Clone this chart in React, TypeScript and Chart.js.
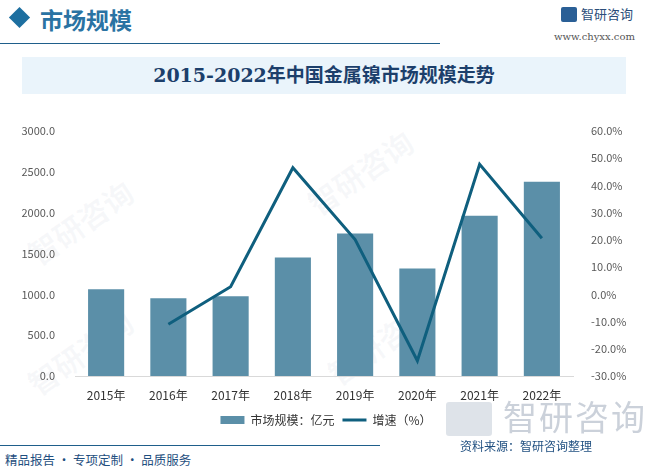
import React, { useEffect, useRef } from "react";
import { Chart, registerables } from "chart.js";

Chart.register(...registerables);

const categories = ["2015年", "2016年", "2017年", "2018年", "2019年", "2020年", "2021年", "2022年"];
const marketSize = [1061, 951, 976, 1451, 1744, 1317, 1963, 2378];
const growthRate = [null, -11.0, 2.8, 46.5, 20.1, -24.4, 47.8, 20.6];
const seriesNames = ["市场规模：亿元", "增速（%）"];

const BAR_COLOR = "#5b8fa8";
const LINE_COLOR = "#0f5f7e";
const FONT = "'Noto Sans CJK SC', 'Noto Sans', sans-serif";

export default function App() {
  const canvasRef = useRef<HTMLCanvasElement | null>(null);

  useEffect(() => {
    if (!canvasRef.current) return;
    Chart.defaults.font.family = FONT;
    const chart = new Chart(canvasRef.current, {
      type: "bar",
      data: {
        labels: categories,
        datasets: [
          {
            type: "bar",
            label: seriesNames[0],
            data: marketSize,
            backgroundColor: BAR_COLOR,
            borderWidth: 0,
            yAxisID: "y",
            order: 1,
            barPercentage: 0.58,
            categoryPercentage: 1,
          },
          {
            type: "line",
            label: seriesNames[1],
            data: growthRate as any,
            borderColor: LINE_COLOR,
            backgroundColor: LINE_COLOR,
            borderWidth: 3,
            pointRadius: 0,
            tension: 0,
            yAxisID: "y1",
            order: 0,
          },
        ],
      },
      options: {
        animation: false,
        responsive: false,
        maintainAspectRatio: false,
        layout: { padding: { top: 31, left: 0, right: 0, bottom: 4 } },
        plugins: {
          tooltip: { enabled: false },
          legend: {
            position: "bottom",
            labels: {
              usePointStyle: true,
              pointStyleWidth: 24,
              boxHeight: 8,
              padding: 8,
              color: "#333333",
              font: { size: 12, family: FONT },
              sort: (a: any, b: any) => a.datasetIndex - b.datasetIndex,
              generateLabels: (c: any) => {
                const items = Chart.defaults.plugins.legend.labels.generateLabels(c);
                return items.map((it: any) => ({
                  ...it,
                  pointStyle: it.datasetIndex === 1 ? "line" : "rect",
                  lineWidth: it.datasetIndex === 1 ? 3 : 0,
                  strokeStyle: it.datasetIndex === 1 ? LINE_COLOR : BAR_COLOR,
                  fillStyle: it.datasetIndex === 1 ? LINE_COLOR : BAR_COLOR,
                }));
              },
            },
          },
        },
        scales: {
          x: {
            grid: { display: false },
            border: { display: true, color: "#d9d9d9", width: 1 },
            ticks: { color: "#333333", font: { size: 12 }, padding: 4 },
            afterFit: (s: any) => {
              s.height = 30;
            },
          },
          y: {
            position: "left",
            min: 0,
            max: 3000,
            grid: { display: false },
            border: { display: false },
            ticks: {
              stepSize: 500,
              color: "#595959",
              font: { size: 11 },
              padding: 12,
              callback: (v: any) => Number(v).toFixed(1),
            },
            afterFit: (s: any) => {
              s.width = 75;
            },
          },
          y1: {
            position: "right",
            min: -30,
            max: 60,
            grid: { display: false },
            border: { display: false },
            ticks: {
              stepSize: 10,
              color: "#595959",
              font: { size: 11 },
              padding: 10,
              callback: (v: any) => Number(v).toFixed(1) + "%",
            },
            afterFit: (s: any) => {
              s.width = 79;
            },
          },
        },
      },
    });
    return () => chart.destroy();
  }, []);

  const wm = (left: number, top: number, size: number) => (
    <div
      style={{
        position: "absolute",
        left,
        top,
        fontSize: size,
        color: "rgba(160,180,200,0.09)",
        transform: "rotate(-35deg)",
        fontFamily: FONT,
        fontWeight: 700,
        whiteSpace: "nowrap",
        pointerEvents: "none",
      }}
    >
      智研咨询
    </div>
  );

  return (
    <div
      style={{
        position: "absolute",
        left: 0,
        top: 0,
        width: 652,
        height: 470,
        background: "#ffffff",
        overflow: "hidden",
        fontFamily: FONT,
      }}
    >
      {/* header */}
      <div
        style={{
          position: "absolute",
          left: 12,
          top: 10,
          width: 15,
          height: 15,
          background: "#1d6fa0",
          transform: "rotate(45deg)",
        }}
      />
      <div
        style={{
          position: "absolute",
          left: 40,
          top: 3,
          fontSize: 23,
          fontWeight: 700,
          color: "#2a73a3",
          fontFamily: FONT,
          lineHeight: "32px",
        }}
      >
        市场规模
      </div>
      <div style={{ position: "absolute", left: 0, top: 43, width: 440, height: 1, background: "#1f5f8b" }} />
      <div
        style={{
          position: "absolute",
          left: 561,
          top: 7,
          width: 16,
          height: 15,
          background: "#2a5f96",
          borderRadius: 2,
        }}
      />
      <div
        style={{
          position: "absolute",
          left: 581,
          top: 4,
          fontSize: 13,
          color: "#2b4d7a",
          lineHeight: "20px",
        }}
      >
        智研咨询
      </div>
      <div
        style={{
          position: "absolute",
          left: 554,
          top: 30,
          fontSize: 10,
          color: "#555",
          fontFamily: "'DejaVu Serif', serif",
          lineHeight: "14px",
        }}
      >
        www.chyxx.com
      </div>

      {/* title box */}
      <div
        style={{
          position: "absolute",
          left: 22,
          top: 57,
          width: 604,
          height: 37,
          background: "#eaf4fb",
        }}
      />
      <div
        style={{
          position: "absolute",
          left: 22,
          top: 57,
          width: 604,
          height: 37,
          lineHeight: "37px",
          textAlign: "center",
          fontSize: 19,
          fontWeight: 700,
          color: "#1c3f6b",
          fontFamily: "'DejaVu Serif', 'Noto Sans CJK SC', serif",
        }}
      >
        2015-2022年中国金属镍市场规模走势
      </div>

      {/* watermarks */}
      {wm(20, 200, 30)}
      {wm(300, 150, 30)}
      {wm(20, 330, 30)}
      {wm(320, 320, 30)}

      {/* chart */}
      <canvas
        ref={canvasRef}
        width={652}
        height={340}
        style={{ position: "absolute", left: 0, top: 100, width: 652, height: 340 }}
      />

      {/* bottom-right logo watermark */}
      <div
        style={{
          position: "absolute",
          left: 446,
          top: 402,
          width: 46,
          height: 34,
          background: "rgba(190,200,212,0.5)",
          borderRadius: 3,
        }}
      />
      <div
        style={{
          position: "absolute",
          left: 503,
          top: 394,
          fontSize: 34,
          color: "rgba(175,185,198,0.65)",
          lineHeight: "44px",
          letterSpacing: 2,
        }}
      >
        智研咨询
      </div>

      {/* footer */}
      <div style={{ position: "absolute", left: 0, top: 445, width: 380, height: 1, background: "#1f5f8b" }} />
      <div
        style={{
          position: "absolute",
          left: 460,
          top: 437,
          fontSize: 12,
          color: "#1f4f80",
          lineHeight: "18px",
        }}
      >
        资料来源：智研咨询整理
      </div>
      <div
        style={{
          position: "absolute",
          left: 5,
          top: 451,
          fontSize: 12.5,
          color: "#1f4f80",
          lineHeight: "18px",
          whiteSpace: "nowrap",
        }}
      >
        精品报告 · 专项定制 · 品质服务
      </div>
    </div>
  );
}
